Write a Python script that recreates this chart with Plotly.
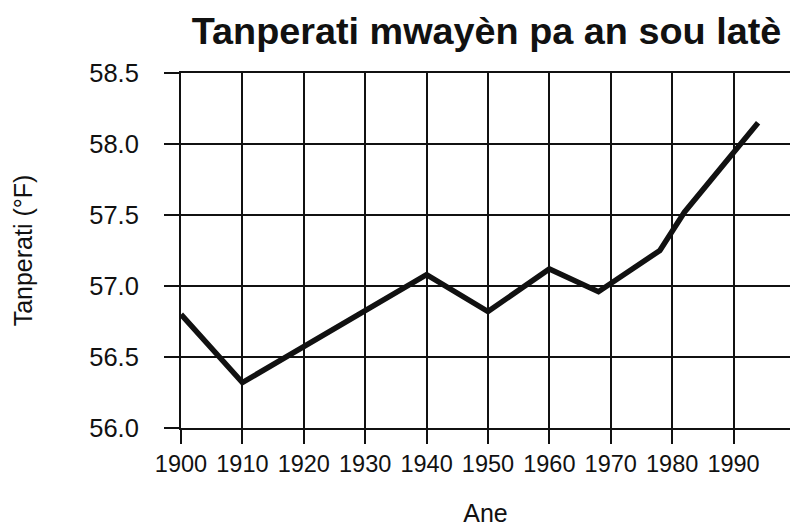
import plotly.graph_objects as go

# Average global temperature, 1900s to mid-1990s
years = [1900, 1910, 1940, 1950, 1960, 1968, 1978, 1982, 1994]
temps_f = [56.8, 56.32, 57.08, 56.82, 57.12, 56.96, 57.25, 57.52, 58.15]

x_ticks = [1900, 1910, 1920, 1930, 1940, 1950, 1960, 1970, 1980, 1990]
y_ticks = [56.0, 56.5, 57.0, 57.5, 58.0, 58.5]
y_tick_text = ["56.0", "56.5", "57.0", "57.5", "58.0", "58.5"]

FONT = "Liberation Sans, Arial, Helvetica, sans-serif"
INK = "#111111"

fig = go.Figure(
    go.Scatter(
        x=years,
        y=temps_f,
        mode="lines",
        line=dict(color=INK, width=5.5),
        hoverinfo="x+y",
    )
)

fig.update_layout(
    width=790,
    height=527,
    margin=dict(l=181, r=0, t=73, b=99),
    paper_bgcolor="white",
    plot_bgcolor="white",
    showlegend=False,
    font=dict(family=FONT, color=INK),
    title=dict(
        text="<b>Tanperati mwayèn pa an sou latè</b>",
        font=dict(family=FONT, size=37.8, color=INK),
        xref="container",
        x=486.5 / 790,
        xanchor="center",
        yref="container",
        y=1 - 31 / 527,
        yanchor="middle",
    ),
)

fig.update_xaxes(
    range=[1900, 1999.2],
    tickmode="array",
    tickvals=x_ticks,
    ticktext=[str(t) for t in x_ticks],
    tickfont=dict(family=FONT, size=23.5, color=INK),
    ticks="outside",
    ticklen=14,
    tickwidth=2,
    tickcolor=INK,
    showgrid=True,
    gridcolor=INK,
    gridwidth=2,
    showline=True,
    mirror=True,
    linecolor=INK,
    linewidth=2,
    zeroline=False,
    title=dict(text="Ane", font=dict(family=FONT, size=25, color=INK), standoff=30),
)

fig.update_yaxes(
    range=[56.0, 58.5],
    tickmode="array",
    tickvals=y_ticks,
    ticktext=y_tick_text,
    tickfont=dict(family=FONT, size=25.5, color=INK),
    ticks="outside",
    ticklen=15,
    tickwidth=2,
    tickcolor=INK,
    ticklabelstandoff=20,
    showgrid=True,
    gridcolor=INK,
    gridwidth=2,
    showline=True,
    linecolor=INK,
    linewidth=2,
    zeroline=False,
    title=dict(text="Tanperati (°F)", font=dict(family=FONT, size=25, color=INK), standoff=50),
)

fig.write_html("out.html")
